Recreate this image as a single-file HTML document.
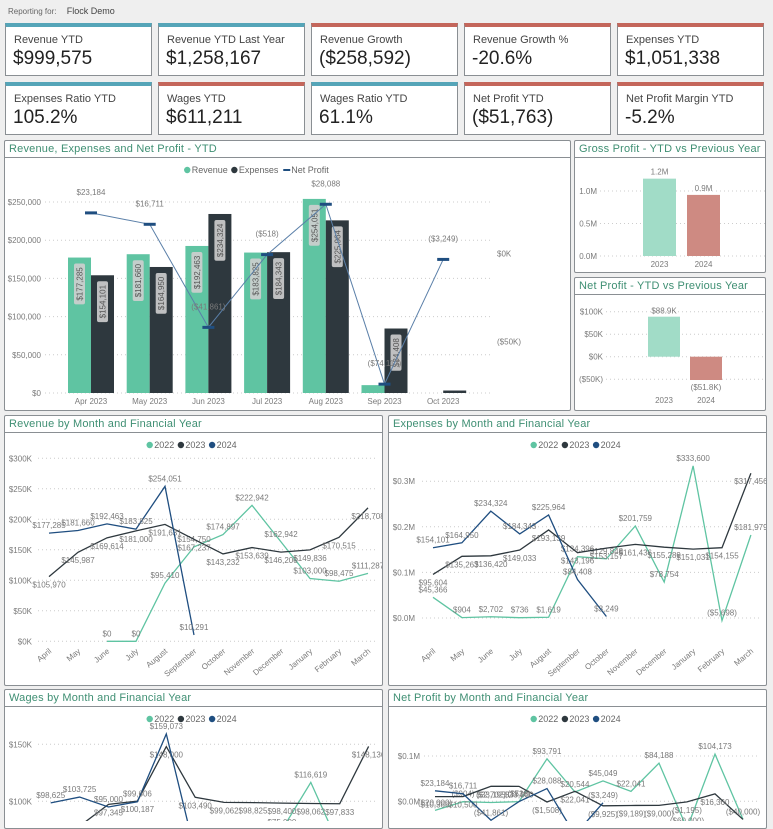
<!DOCTYPE html>
<html><head><meta charset="utf-8">
<style>
*{box-sizing:border-box;margin:0;padding:0}
body{width:773px;height:821px;overflow:hidden;background:#efefef;font-family:"Liberation Sans",sans-serif;position:relative}
.hdr{position:absolute;left:8px;top:6px;font-size:8px;color:#666}
.hdr b{font-weight:normal;color:#444;margin-left:8px;font-size:9px}
.card{position:absolute;width:147px;height:53px;background:#fff;border:1px solid #8a8f93;border-top:4px solid #55a5b8}
.card.r{border-top-color:#c4665b}
.card .l{position:absolute;left:8px;top:7px;font-size:11px;color:#444}
.card .v{position:absolute;left:7px;top:21px;font-size:19px;color:#222}
.panel{position:absolute;background:#fff;border:1px solid #8a8f93;border-radius:2px}
.panel .t{height:17px;border-bottom:1px solid #8a8f93;font-size:11px;color:#3f8f73;padding:2px 0 0 4px;white-space:nowrap;letter-spacing:.2px}
svg{position:absolute;left:0;top:0}
</style></head><body>
<div class="hdr">Reporting for: <b>Flock Demo</b></div>

<div class="card" style="left:5px;top:23px"><div class="l">Revenue YTD</div><div class="v">$999,575</div></div>
<div class="card" style="left:158px;top:23px"><div class="l">Revenue YTD Last Year</div><div class="v">$1,258,167</div></div>
<div class="card r" style="left:311px;top:23px"><div class="l">Revenue Growth</div><div class="v">($258,592)</div></div>
<div class="card r" style="left:464px;top:23px"><div class="l">Revenue Growth %</div><div class="v">-20.6%</div></div>
<div class="card r" style="left:617px;top:23px"><div class="l">Expenses YTD</div><div class="v">$1,051,338</div></div>
<div class="card" style="left:5px;top:82px"><div class="l">Expenses Ratio YTD</div><div class="v">105.2%</div></div>
<div class="card r" style="left:158px;top:82px"><div class="l">Wages YTD</div><div class="v">$611,211</div></div>
<div class="card" style="left:311px;top:82px"><div class="l">Wages Ratio YTD</div><div class="v">61.1%</div></div>
<div class="card r" style="left:464px;top:82px"><div class="l">Net Profit YTD</div><div class="v">($51,763)</div></div>
<div class="card r" style="left:617px;top:82px"><div class="l">Net Profit Margin YTD</div><div class="v">-5.2%</div></div>

<div class="panel" style="left:4px;top:140px;width:567px;height:271px"><div class="t">Revenue, Expenses and Net Profit - YTD</div></div>
<div class="panel" style="left:574px;top:140px;width:192px;height:133px"><div class="t">Gross Profit - YTD vs Previous Year</div></div>
<div class="panel" style="left:574px;top:277px;width:192px;height:134px"><div class="t">Net Profit - YTD vs Previous Year</div></div>
<div class="panel" style="left:4px;top:415px;width:379px;height:271px"><div class="t">Revenue by Month and Financial Year</div></div>
<div class="panel" style="left:388px;top:415px;width:379px;height:271px"><div class="t">Expenses by Month and Financial Year</div></div>
<div class="panel" style="left:4px;top:689px;width:379px;height:140px"><div class="t">Wages by Month and Financial Year</div></div>
<div class="panel" style="left:388px;top:689px;width:379px;height:140px"><div class="t">Net Profit by Month and Financial Year</div></div>

<svg id="s" width="773" height="821" font-family="Liberation Sans, sans-serif">
<defs>
<clipPath id="c-revenue"><rect x="5" y="433" width="377" height="252"/></clipPath>
<clipPath id="c-expenses"><rect x="389" y="433" width="377" height="252"/></clipPath>
<clipPath id="c-wages"><rect x="5" y="707" width="377" height="114"/></clipPath>
<clipPath id="c-net-profit"><rect x="389" y="707" width="377" height="114"/></clipPath>
</defs>
</svg>

<script>
// ---- data ----
const ytdMonths = ['Apr 2023','May 2023','Jun 2023','Jul 2023','Aug 2023','Sep 2023','Oct 2023'];
const ytdRevenue = [177285,181660,192463,183825,254051,10291,0];
const ytdExpenses = [154101,164950,234324,184343,225964,84408,3249];
const ytdNetProfit = [23184,16711,-41861,-518,28088,-74117,-3249];
const ytdLeftTicks = [0,50000,100000,150000,200000,250000];
const ytdRightTicks = [0,-50000];

const gpYears = ['2023','2024'];
const gpValues = [1.19,0.94];
const gpTicks = [0,0.5,1.0];
const npYears = ['2023','2024'];
const npValues = [88900,-51800];
const npTicks = [-50000,0,50000,100000];

const months = ['April','May','June','July','August','September','October','November','December','January','February','March'];
const revenue2022 = [null,null,0,0,95410,154750,174897,222942,162942,103000,98475,111287];
const revenue2023 = [105970,145987,169614,181000,191631,167237,143232,153639,146200,149836,170515,218708];
const revenue2024 = [177285,181660,192463,183825,254051,10291,null,null,null,null,null,null];
const revenueTicks = [0,50000,100000,150000,200000,250000,300000];

const expenses2022 = [45366,904,2702,736,1619,134396,129848,201759,78754,333600,-5698,181979];
const expenses2023 = [95604,135263,136420,149033,193139,143196,153157,161436,155289,151031,154155,317456];
const expenses2024 = [154101,164950,234324,184343,225964,84408,3249,null,null,null,null,null];
const expensesTicks = [0,100000,200000,300000];

const wages2022 = [40000,40000,40000,40000,40000,40000,40000,40000,75000,116619,60000,null];
const wages2023 = [55000,78205,97345,100187,148000,103490,99062,98825,98400,98062,97833,148136];
const wages2024 = [98625,103725,95000,99606,159073,54788,null,null,null,null,null,null];
const wagesTicks = [100000,150000];

const np2022 = [-20000,-904,-2702,-736,93791,20544,45049,22041,84188,-60000,104173,-40000];
const np2023 = [10366,10500,33195,33000,-1508,22041,-9925,-9189,-9000,-1195,16360,-40000];
const np2024 = [23184,16711,-41861,-518,28088,-74117,-3249,null,null,null,null,null];
const npmTicks = [0,100000];

// ---- helpers ----
const S = document.getElementById('s');
let P = S;
const NS = 'http://www.w3.org/2000/svg';
const GREEN='#5fc4a2', DARK='#2e383e', BLUE='#1f4e80', GRAY='#7a7a7a';
function el(tag, attrs, txt){const e=document.createElementNS(NS,tag);for(const k in attrs)e.setAttribute(k,attrs[k]);if(txt!==undefined)e.textContent=txt;P.appendChild(e);return e;}
function money(v){const a=Math.abs(Math.round(v)).toLocaleString('en-US');return v<0?'($'+a+')':'$'+a;}
function kfmt(v){return v<0?'($'+Math.abs(v/1000)+'K)':'$'+(v/1000)+'K';}
function mfmt(v){return '$'+(v/1e6).toFixed(1)+'M';}
function grid(y,x1,x2){const g=el('line',{x1:x1,x2:x2,y1:y,y2:y,stroke:'#ccc','stroke-dasharray':'1 3','stroke-width':1});}
function txt(x,y,s,o){o=o||{};const a=Object.assign({x:x,y:y,'font-size':8,fill:GRAY},o);delete a.name;const t=el('text',a,s);return t;}
function legend(cx,y,items){
  let w=0;items.forEach(it=>w+=it[0].length*5.3+10);let x=cx-w/2;
  items.forEach(it=>{
    let m;
    if(it[2]==='line'){m=el('line',{x1:x,x2:x+7,y1:y-3,y2:y-3,stroke:it[1],'stroke-width':2});}
    else{m=el('circle',{cx:x+3.5,cy:y-3,r:3.2,fill:it[1]});}
    
    
    const t=txt(x+8,y,it[0],{'font-size':9,fill:'#666'});
    
    
    x+=it[0].length*5.3+10;
  });
}

// ---- main combo chart ----
(function(){
  const y0=393, k=38.2/50000, x0=91, dx=58.7, bw=23;
  const yR0=253.7, kR=88/50000;
  const ly=v=>y0-v*k, ry=v=>yR0-v*kR, xc=i=>x0+i*dx;
  ytdLeftTicks.forEach(v=>{grid(ly(v),45,490);txt(41,ly(v)+3,'$'+v.toLocaleString('en-US'),{'text-anchor':'end',name:'y-axis-tick'});});
  ytdRightTicks.forEach(v=>{txt(497,ry(v)+3,kfmt(v),{name:'y2-axis-tick'});});
  ytdMonths.forEach((m,i)=>txt(xc(i),404,m,{'text-anchor':'middle',name:'x-axis-tick'}));
  legend(265,173,[['Revenue',GREEN],['Expenses',DARK],['Net Profit',BLUE,'line']]);
  function vlabel(cx,top,s){
    const h=s.length*4.6+4;
    const r=el('rect',{x:cx-5.5,y:top+6,width:11,height:h,rx:2,fill:'#cfcfcf',opacity:0.9});
    
    txt(cx+3,top+6+h/2,s,{'text-anchor':'middle',transform:`rotate(-90 ${cx+3} ${top+6+h/2})`,'font-size':8,fill:'#555',name:'bar-value-label'});
  }
  ytdRevenue.forEach((v,i)=>{const b=el('rect',{x:xc(i)-bw,y:ly(v),width:bw,height:v*k,fill:GREEN});});
  ytdExpenses.forEach((v,i)=>{const b=el('rect',{x:xc(i),y:ly(v),width:bw,height:v*k,fill:DARK});});
  ytdRevenue.forEach((v,i)=>{if(v>50000)vlabel(xc(i)-bw/2,ly(v),money(v));});
  ytdExpenses.forEach((v,i)=>{if(v>50000)vlabel(xc(i)+bw/2,ly(v),money(v));});
  let d='';ytdNetProfit.forEach((v,i)=>{d+=(i?'L':'M')+xc(i)+' '+ry(v);});
  const p=el('path',{d:d,fill:'none',stroke:'#5a7fa8','stroke-width':1});
  ytdNetProfit.forEach((v,i)=>{
    const mk=el('rect',{x:xc(i)-6,y:ry(v)-1.5,width:12,height:3,fill:BLUE});
    txt(xc(i),ry(v)-18,money(v),{'text-anchor':'middle',name:'net-profit-label'});
  });
})();

// ---- gross profit ----
(function(){
  const y0=256, k=65, xs=[659.5,703.5], bw=33;
  gpTicks.forEach(v=>{grid(y0-v*k,600,765);txt(597,y0-v*k+3,v.toFixed(1)+'M',{'text-anchor':'end',name:'y-axis-tick'});});
  const cols=['#a1dcc7','#ce8a82'];
  gpValues.forEach((v,i)=>{
    const b=el('rect',{x:xs[i]-bw/2,y:y0-v*k,width:bw,height:v*k,fill:cols[i]});
    txt(xs[i],y0-v*k-4,v.toFixed(1)+'M',{'text-anchor':'middle',name:'bar-value-label'});
    txt(xs[i],267,gpYears[i],{'text-anchor':'middle',name:'x-axis-tick'});
  });
})();

// ---- net profit ytd ----
(function(){
  const y0=356.7, k=22.5/50000, xs=[664,706], bw=32;
  npTicks.forEach(v=>{grid(y0-v*k,606,765);txt(603,y0-v*k+3,kfmt(v),{'text-anchor':'end',name:'y-axis-tick'});});
  const cols=['#a1dcc7','#ce8a82'];
  npValues.forEach((v,i)=>{
    const b=el('rect',{x:xs[i]-bw/2,y:Math.min(y0,y0-v*k),width:bw,height:Math.abs(v*k),fill:cols[i]});
    const ty=v>=0?y0-v*k-3:y0-v*k+10;
    txt(xs[i],ty,(v<0?'($':'$')+Math.abs(v/1000).toFixed(1)+'K'+(v<0?')':''),{'text-anchor':'middle',name:'bar-value-label'});
    txt(xs[i],403,npYears[i],{'text-anchor':'middle',name:'x-axis-tick'});
  });
})();

// ---- line chart helper ----
function lineChart(o){
  const g=document.createElementNS(NS,'g');
  g.setAttribute('clip-path','url(#c-'+o.name+')');
  
  
  S.appendChild(g);P=g;
  const Y=v=>o.y0-v*o.k, X=i=>o.x0+i*o.dx;
  o.ticks.forEach(v=>{grid(Y(v),o.gx1,o.gx2);txt(o.tx,Y(v)+3,o.tf(v),{'text-anchor':'end',name:'y-axis-tick'});});
  if(o.xlab)months.forEach((m,i)=>txt(X(i)+3,o.xlab,m,{'text-anchor':'end',transform:`rotate(-40 ${X(i)+3} ${o.xlab})`,name:'x-axis-tick'}));
  legend(o.lx,o.ly,[['2022',GREEN],['2023',DARK],['2024',BLUE]]);
  const cols=[GREEN,DARK,BLUE];
  o.series.forEach((s,si)=>{
    let d='',started=false;
    s.forEach((v,i)=>{if(v===null)return;d+=(started?'L':'M')+X(i)+' '+Y(v);started=true;});
    const p=el('path',{d:d,fill:'none',stroke:cols[si],'stroke-width':1.3});
    
    
    s.forEach((v,i)=>{if(v===null)return;const up=(si%2===0);txt(X(i),up?Y(v)-5:Y(v)+11,money(v),{'text-anchor':'middle','font-size':8,name:o.name+'-data-label'});});
  });
  P=S;
}
lineChart({name:'revenue',series:[revenue2022,revenue2023,revenue2024],ticks:revenueTicks,y0:641.3,k:30.5/50000,x0:49,dx:29,gx1:38,gx2:378,tx:32,tf:kfmt,xlab:652,lx:193,ly:448});
lineChart({name:'expenses',series:[expenses2022,expenses2023,expenses2024],ticks:expensesTicks,y0:618,k:45.6/100000,x0:433,dx:28.9,gx1:422,gx2:760,tx:415,tf:mfmt,xlab:652,lx:577,ly:448});
lineChart({name:'wages',series:[wages2022,wages2023,wages2024],ticks:wagesTicks,y0:915.3,k:57/50000,x0:50.7,dx:28.9,gx1:38,gx2:378,tx:32,tf:kfmt,xlab:0,lx:193,ly:722});
lineChart({name:'net-profit',series:[np2022,np2023,np2024],ticks:npmTicks,y0:801.3,k:45.3/100000,x0:435,dx:28,gx1:424,gx2:760,tx:420,tf:mfmt,xlab:0,lx:577,ly:722});
</script>
</body></html>
